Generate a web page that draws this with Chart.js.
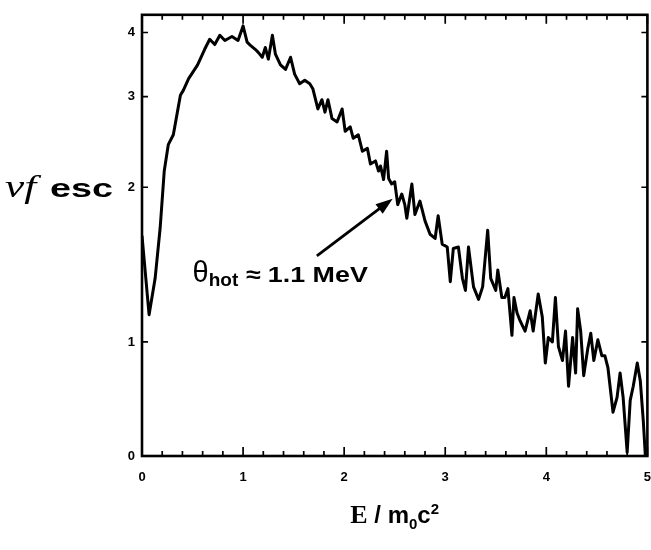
<!DOCTYPE html>
<html><head><meta charset="utf-8">
<script src="https://cdn.jsdelivr.net/npm/chart.js@4/dist/chart.umd.min.js"></script>
<style>html,body{margin:0;padding:0;background:#fff;}#wrap{width:651px;height:550px;}</style>
</head><body><div id="wrap"><canvas id="c" width="651" height="550"></canvas></div>
<script>
// ---- data (E / m0c2 vs νf esc, log-like vertical axis) ----
const energy = [0,0.07,0.13,0.18,0.22,0.26,0.31,0.35,0.38,0.41,0.46,0.55,0.62,0.67,0.72,0.77,0.82,0.89,0.95,1.00,
 1.04,1.07,1.12,1.15,1.19,1.22,1.25,1.29,1.32,1.37,1.42,1.47,1.51,1.56,1.61,1.66,1.69,1.74,1.78,1.81,
 1.84,1.88,1.93,1.98,2.01,2.06,2.09,2.14,2.18,2.23,2.26,2.31,2.34,2.36,2.39,2.42,2.44,2.47,2.50,2.53,
 2.57,2.60,2.62,2.67,2.70,2.75,2.80,2.85,2.90,2.93,2.97,3.02,3.05,3.08,3.13,3.17,3.20,3.23,3.28,3.33,
 3.37,3.42,3.45,3.50,3.52,3.56,3.59,3.62,3.66,3.68,3.71,3.74,3.79,3.84,3.87,3.92,3.96,3.99,4.02,4.06,
 4.09,4.12,4.16,4.19,4.22,4.26,4.29,4.31,4.34,4.37,4.41,4.44,4.47,4.51,4.55,4.58,4.61,4.66,4.70,4.73,
 4.76,4.80,4.83,4.86,4.90,4.93,4.96,4.98];
const vfEsc = [1.61,1.13,1.33,1.67,2.15,2.42,2.53,2.80,3.02,3.09,3.25,3.46,3.71,3.88,3.79,3.95,3.86,3.93,3.86,4.12,
 3.83,3.78,3.71,3.66,3.58,3.74,3.55,3.95,3.63,3.46,3.39,3.58,3.32,3.18,3.23,3.18,3.11,2.84,2.96,2.80,
 2.96,2.72,2.68,2.84,2.57,2.62,2.49,2.53,2.35,2.38,2.22,2.25,2.15,2.20,2.07,2.35,2.08,2.03,2.05,1.85,
 1.94,1.85,1.74,2.03,1.77,1.88,1.72,1.62,1.59,1.76,1.55,1.53,1.31,1.52,1.53,1.33,1.26,1.53,1.28,1.21,
 1.28,1.65,1.33,1.26,1.38,1.22,1.22,1.27,1.03,1.22,1.14,1.10,1.05,1.15,1.05,1.24,1.12,0.91,1.02,1.00,
 1.22,0.98,0.92,1.05,0.82,1.02,0.87,1.16,1.05,0.86,0.97,1.04,0.92,1.01,0.94,0.94,0.89,0.73,0.78,0.87,
 0.78,0.61,0.77,0.82,0.91,0.84,0.70,0.60];
const xTickValues = [0,1,2,3,4,5];
const xTickLabels = ['0','1','2','3','4','5'];
const yTickValues = [0.6,1,2,3,4];
const yTickLabels = ['0','1','2','3','4'];
const annotationText = {theta:'θ', sub:'hot', rest:' ≈ 1.1 MeV'};

const points = energy.map((e,i)=>({x:e, y:vfEsc[i]}));

const decor = {
  id:'decor',
  afterDraw(chart){
    const ctx=chart.ctx, a=chart.chartArea, xs=chart.scales.x, ys=chart.scales.y;
    ctx.save();
    ctx.strokeStyle='#000'; ctx.fillStyle='#000';
    ctx.lineWidth=2.6;
    ctx.strokeRect(a.left,a.top,a.right-a.left,a.bottom-a.top);
    ctx.lineWidth=1.7;
    for(let i=0;i<=25;i++){
      const v=i*0.2, px=xs.getPixelForValue(v);
      const L=(i%5===0)?9:5;
      ctx.beginPath();
      ctx.moveTo(px,a.bottom); ctx.lineTo(px,a.bottom-L);
      ctx.moveTo(px,a.top); ctx.lineTo(px,a.top+L);
      ctx.stroke();
    }
    yTickValues.slice(1).forEach(v=>{
      const py=ys.getPixelForValue(v);
      ctx.beginPath();
      ctx.moveTo(a.left,py); ctx.lineTo(a.left+6,py);
      ctx.moveTo(a.right,py); ctx.lineTo(a.right-6,py);
      ctx.stroke();
    });
    // y title (horizontal)
    ctx.textBaseline='alphabetic'; ctx.textAlign='left';
    ctx.save(); ctx.translate(5,197); ctx.scale(1.35,1);
    ctx.font='italic 32px "Liberation Serif"';
    ctx.fillText('νf',0,0);
    ctx.restore();
    ctx.save(); ctx.translate(50,197); ctx.scale(1.45,1);
    ctx.font='bold 26px "Liberation Sans"';
    ctx.fillText('esc',0,0);
    ctx.restore();
    // x title  E / m0c2
    const parts=[
      {t:'E',f:'bold 26px "Liberation Serif"',dy:0},
      {t:' / ',f:'bold 24px "Liberation Sans"',dy:0},
      {t:'m',f:'bold 24px "Liberation Sans"',dy:0},
      {t:'0',f:'bold 15px "Liberation Sans"',dy:6},
      {t:'c',f:'bold 24px "Liberation Sans"',dy:0},
      {t:'2',f:'bold 15px "Liberation Sans"',dy:-9}
    ];
    let tw=0; parts.forEach(p=>{ctx.font=p.f; p.w=ctx.measureText(p.t).width; tw+=p.w;});
    let cx=(a.left+a.right)/2 - tw/2;
    parts.forEach(p=>{ctx.font=p.f; ctx.fillText(p.t,cx,523+p.dy); cx+=p.w;});
    // annotation arrow (in data coordinates)
    const tx=xs.getPixelForValue(1.73), ty=ys.getPixelForValue(1.47);
    const hx=xs.getPixelForValue(2.48), hy=ys.getPixelForValue(1.90);
    const ang=Math.atan2(hy-ty,hx-tx);
    ctx.lineWidth=2.8;
    ctx.beginPath(); ctx.moveTo(tx,ty); ctx.lineTo(hx-12*Math.cos(ang),hy-12*Math.sin(ang)); ctx.stroke();
    ctx.beginPath();
    ctx.moveTo(hx,hy);
    ctx.lineTo(hx-17*Math.cos(ang)+6*Math.sin(ang), hy-17*Math.sin(ang)-6*Math.cos(ang));
    ctx.lineTo(hx-17*Math.cos(ang)-6*Math.sin(ang), hy-17*Math.sin(ang)+6*Math.cos(ang));
    ctx.closePath(); ctx.fill();
    // annotation text
    let ax=xs.getPixelForValue(0.5), ay=ys.getPixelForValue(1.31);
    ctx.font='29px "Liberation Sans"'; ctx.fillText(annotationText.theta,ax,ay); ax+=ctx.measureText(annotationText.theta).width;
    ctx.font='bold 19px "Liberation Sans"'; ctx.fillText(annotationText.sub,ax,ay+4); ax+=ctx.measureText(annotationText.sub).width;
    ctx.save(); ctx.translate(ax,ay); ctx.scale(1.22,1);
    ctx.font='bold 22px "Liberation Sans"'; ctx.fillText(annotationText.rest,0,0);
    ctx.restore();
    ctx.restore();
  }
};

new Chart(document.getElementById('c'),{
  type:'line',
  data:{datasets:[{data:points,borderColor:'#000',borderWidth:3,pointRadius:0,tension:0,fill:false,borderJoinStyle:'round'}]},
  options:{
    responsive:false, animation:false, devicePixelRatio:1,
    layout:{padding:{top:12,right:0,bottom:0,left:0}},
    plugins:{legend:{display:false},tooltip:{enabled:false}},
    scales:{
      x:{type:'linear',min:0,max:5,
        grid:{display:false,drawTicks:true,tickLength:14},border:{display:false},
        afterBuildTicks:s=>{s.ticks=xTickValues.map(v=>({value:v}));},
        afterFit:s=>{s.height=94;},
        ticks:{padding:0,color:'#000',font:{family:'Liberation Sans',weight:'bold',size:13},
          callback:(v,i)=>xTickLabels[i],maxRotation:0}},
      y:{type:'logarithmic',min:0.6,max:4.33,
        grid:{display:false,drawTicks:false},border:{display:false},
        afterBuildTicks:s=>{s.ticks=yTickValues.map(v=>({value:v}));},
        afterFit:s=>{s.width=142;},
        ticks:{padding:7,color:'#000',font:{family:'Liberation Sans',weight:'bold',size:13},
          callback:(v,i)=>yTickLabels[i]}}
    }
  },
  plugins:[decor]
});
</script></body></html>
